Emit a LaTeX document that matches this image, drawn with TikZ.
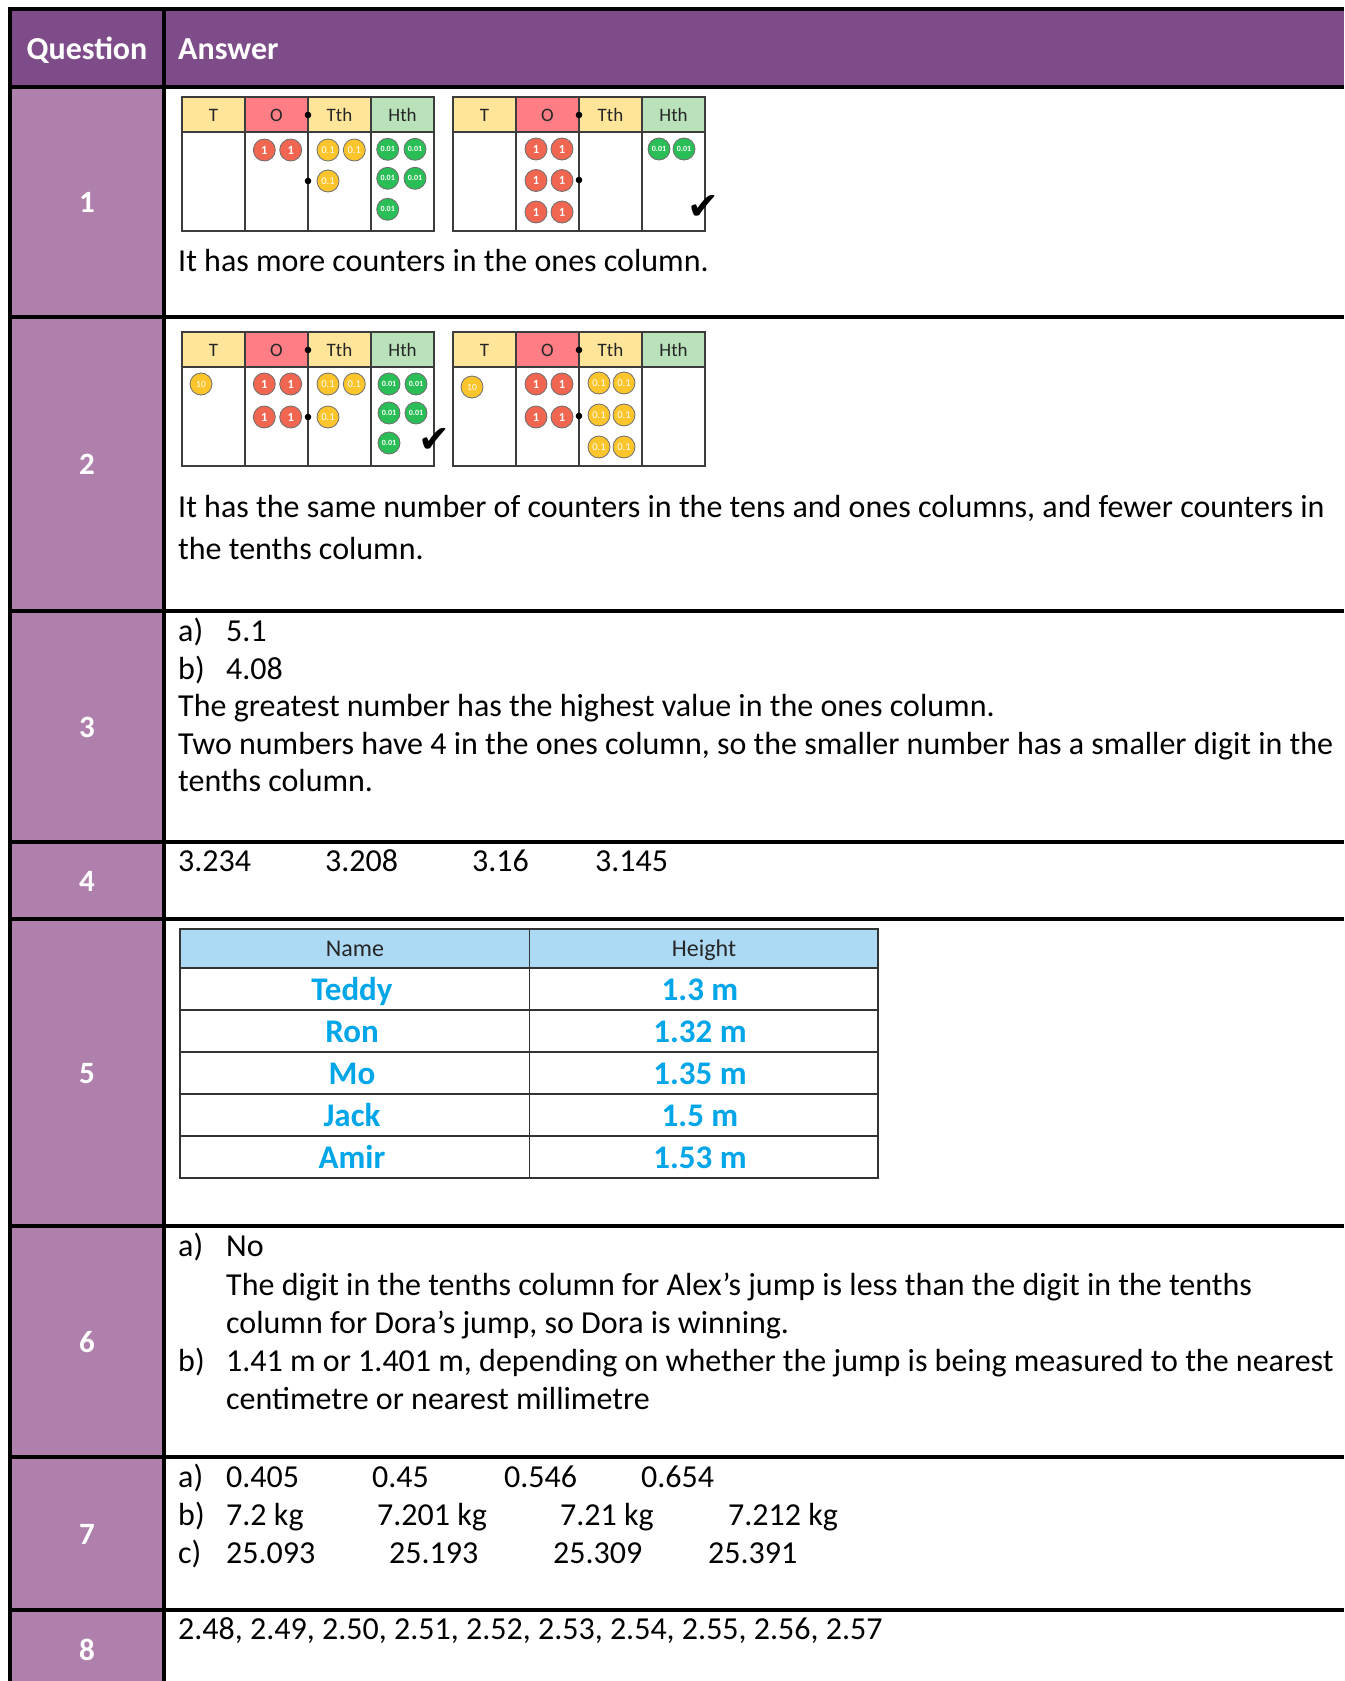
\documentclass[tikz,border=0pt]{standalone}
\usepackage{fontspec}
\setmainfont{Carlito}
\newfontfamily\symfont{DejaVu Sans}
\definecolor{hdrpurple}{RGB}{127,76,138}
\definecolor{qpurple}{RGB}{176,128,173}
\definecolor{chy}{RGB}{255,229,153}
\definecolor{chr}{RGB}{255,125,132}
\definecolor{chg}{RGB}{186,226,186}
\definecolor{chline}{RGB}{60,60,60}
\definecolor{cred}{RGB}{240,102,80}
\definecolor{cyel}{RGB}{253,197,44}
\definecolor{cgrn}{RGB}{42,190,86}
\definecolor{cline}{RGB}{110,110,110}
\definecolor{tblue}{RGB}{172,217,244}
\definecolor{nblue}{RGB}{0,166,232}
\newcommand\fs[1]{\fontsize{#1}{#1}\selectfont}
\newcounter{ctrno}
\newcommand\ctr[4]{\stepcounter{ctrno}\node[#1] (ctr\thectrno) at (#2,#3) {#4};}
\tikzset{
  tline/.style={line width=4pt, black},
  chartln/.style={line width=1.4pt, chline},
  chhead/.style={inner sep=0pt, text=black!85, font=\fs{19}},
  basec/.style={circle, draw=cline, line width=0.8pt, minimum size=22pt, inner sep=0pt, text=white},
  onec/.style={basec, fill=cred, font=\bfseries\fs{12.5}},
  tenthc/.style={basec, fill=cyel, font=\fs{10.5}},
  hundc/.style={basec, fill=cgrn, font=\bfseries\fs{8}},
  tenc/.style={basec, fill=cyel, font=\fs{9.5}},
  body/.style={inner sep=0pt, anchor=base west, font=\fs{32}},
  qnum/.style={inner sep=0pt, anchor=base, text=white, font=\bfseries\fs{31}},
  hdrtxt/.style={inner sep=0pt, text=white, font=\bfseries\fs{32}},
  tbhead/.style={inner sep=0pt, anchor=base, text=black!85, font=\fs{24}},
  tbname/.style={inner sep=0pt, anchor=base, text=nblue, font=\bfseries\fs{33}},
  chk/.style={inner sep=0pt, font=\symfont\fs{38}},
  tbline/.style={line width=1.6pt, black!80}
}
% #1 x0, #2 y0, #3 name prefix, #4 body dot y (relative)
\newcommand\pvchart[4]{%
  \begin{scope}[shift={(#1,#2)}]
    \fill[chy] (0,0) rectangle (63,35);
    \fill[chr] (63,0) rectangle (126,35);
    \fill[chy] (126,0) rectangle (189,35);
    \fill[chg] (189,0) rectangle (252,35);
    \draw[chartln] (0,0) rectangle (252,134);
    \draw[chartln] (0,35) -- (252,35);
    \draw[chartln] (63,0) -- (63,134);
    \draw[chartln] (126,0) -- (126,134);
    \draw[chartln] (189,0) -- (189,134);
    \fill[black] (126,18) circle (3.3);
    \fill[black] (126,#4) circle (3.3);
    \node[chhead] (#3T) at (31.5,18) {T};
    \node[chhead] (#3O) at (94.5,18) {O};
    \node[chhead] (#3Tth) at (157.5,18) {Tth};
    \node[chhead] (#3Hth) at (220.5,18) {Hth};
  \end{scope}}
\begin{document}
\begin{tikzpicture}[x=1pt,y=-1pt]
\useasboundingbox (0,0) rectangle (1344,1681);
\fill[white] (0,0) rectangle (1344,1681);
% backgrounds
\fill[hdrpurple] (10,9) rectangle (1344,87);
\fill[qpurple] (10,87) rectangle (164,1681);
% grid
\foreach \yy in {9,87,317,611,842,919,1226,1457,1610}
  \draw[tline] (8,\yy) -- (1344,\yy);
\draw[tline] (10,7) -- (10,1681);
\draw[tline] (164,7) -- (164,1681);
% header
\node[hdrtxt, anchor=base] (hq) at (87,59.5) {Question};
\node[hdrtxt, anchor=base west] (ha) at (178,59.5) {Answer};
% question numbers
\node[qnum] (q1) at (87,212.5) {1};
\node[qnum] (q2) at (87,474.5) {2};
\node[qnum] (q3) at (87,737) {3};
\node[qnum] (q4) at (87,891) {4};
\node[qnum] (q5) at (87,1083) {5};
\node[qnum] (q6) at (87,1352) {6};
\node[qnum] (q7) at (87,1544) {7};
\node[qnum] (q8) at (87,1660.5) {8};

% ---------- Q1 charts
\pvchart{182}{97}{qa}{84}
\ctr{onec}{264.3}{150}{1}
\ctr{onec}{290.7}{150}{1}
\ctr{tenthc}{328}{150}{0.1}
\ctr{tenthc}{354.3}{150}{0.1}
\ctr{tenthc}{328}{181}{0.1}
\ctr{hundc}{387.7}{149.3}{0.01}
\ctr{hundc}{415}{149.3}{0.01}
\ctr{hundc}{387.7}{178.3}{0.01}
\ctr{hundc}{415}{178.3}{0.01}
\ctr{hundc}{387.7}{209.3}{0.01}

\pvchart{453}{97}{qb}{83}
\ctr{onec}{536}{149}{1}
\ctr{onec}{562}{149}{1}
\ctr{onec}{536}{180.5}{1}
\ctr{onec}{562}{180.5}{1}
\ctr{onec}{536}{212}{1}
\ctr{onec}{562}{212}{1}
\ctr{hundc}{659}{149}{0.01}
\ctr{hundc}{684}{149}{0.01}
\node[chk] (chk1) at (703,208) {✔};
\node[body] (t1) at (178,271) {It has more counters in the ones column.};

% ---------- Q2 charts
\pvchart{182}{332}{qc}{85}
\ctr{tenc}{201}{384}{10}
\ctr{onec}{264.3}{384}{1}
\ctr{onec}{290.7}{384}{1}
\ctr{onec}{264.3}{417}{1}
\ctr{onec}{290.7}{417}{1}
\ctr{tenthc}{328}{384}{0.1}
\ctr{tenthc}{354.3}{384}{0.1}
\ctr{tenthc}{328}{417}{0.1}
\ctr{hundc}{389}{384}{0.01}
\ctr{hundc}{416}{384}{0.01}
\ctr{hundc}{389}{413}{0.01}
\ctr{hundc}{416}{413}{0.01}
\ctr{hundc}{389}{443}{0.01}
\node[chk] (chk2) at (434,441) {✔};

\pvchart{453}{332}{qd}{84}
\ctr{tenc}{472}{387}{10}
\ctr{onec}{536}{384}{1}
\ctr{onec}{562}{384}{1}
\ctr{onec}{536}{417}{1}
\ctr{onec}{562}{417}{1}
\ctr{tenthc}{599}{383}{0.1}
\ctr{tenthc}{624}{383}{0.1}
\ctr{tenthc}{599}{415}{0.1}
\ctr{tenthc}{624}{415}{0.1}
\ctr{tenthc}{599}{447}{0.1}
\ctr{tenthc}{624}{447}{0.1}
\node[body] (t2a) at (178,517) {It has the same number of counters in the tens and ones columns, and fewer counters in};
\node[body] (t2b) at (178,559) {the tenths column.};

% ---------- Q3
\node[body] (t3a) at (178,641) {a)};
\node[body] (t3a2) at (226,641) {5.1};
\node[body] (t3b) at (178,679) {b)};
\node[body] (t3b2) at (226,679) {4.08};
\node[body] (t3c) at (178,716) {The greatest number has the highest value in the ones column.};
\node[body] (t3d) at (178,754) {Two numbers have 4 in the ones column, so the smaller number has a smaller digit in the};
\node[body] (t3e) at (178,791) {tenths column.};

% ---------- Q4
\node[body] (t4a) at (178,871) {3.234};
\node[body] (t4b) at (325,871) {3.208};
\node[body] (t4c) at (472,871) {3.16};
\node[body] (t4d) at (595,871) {3.145};

% ---------- Q5 table
\fill[tblue] (180,929) rectangle (878,968);
\draw[tbline] (180,929) rectangle (878,1178);
\foreach \yy in {968,1010,1052,1094,1136}
  \draw[tbline] (180,\yy) -- (878,\yy);
\draw[tbline] (529.5,929) -- (529.5,1178);
\node[tbhead] (th1) at (355,956) {Name};
\node[tbhead] (th2) at (704,956) {Height};
\node[tbname] (n1) at (352,1000) {Teddy};
\node[tbname] (h1) at (700,1000) {1.3 m};
\node[tbname] (n2) at (352,1042) {Ron};
\node[tbname] (h2) at (700,1042) {1.32 m};
\node[tbname] (n3) at (352,1084) {Mo};
\node[tbname] (h3) at (700,1084) {1.35 m};
\node[tbname] (n4) at (352,1126) {Jack};
\node[tbname] (h4) at (700,1126) {1.5 m};
\node[tbname] (n5) at (352,1168) {Amir};
\node[tbname] (h5) at (700,1168) {1.53 m};

% ---------- Q6
\node[body] (t6a) at (178,1256) {a)};
\node[body] (t6a2) at (226,1256) {No};
\node[body] (t6a3) at (226,1295) {The digit in the tenths column for Alex’s jump is less than the digit in the tenths};
\node[body] (t6a4) at (226,1333) {column for Dora’s jump, so Dora is winning.};
\node[body] (t6b) at (178,1371) {b)};
\node[body] (t6b2) at (226,1371) {1.41 m or 1.401 m, depending on whether the jump is being measured to the nearest};
\node[body] (t6b3) at (226,1409) {centimetre or nearest millimetre};

% ---------- Q7
\node[body] (t7a) at (178,1487) {a)};
\node[body] (t7a1) at (226,1487) {0.405};
\node[body] (t7a2) at (372,1487) {0.45};
\node[body] (t7a3) at (504,1487) {0.546};
\node[body] (t7a4) at (641,1487) {0.654};
\node[body] (t7b) at (178,1525) {b)};
\node[body] (t7b1) at (226,1525) {7.2 kg};
\node[body] (t7b2) at (377,1525) {7.201 kg};
\node[body] (t7b3) at (560,1525) {7.21 kg};
\node[body] (t7b4) at (728,1525) {7.212 kg};
\node[body] (t7c) at (178,1563) {c)};
\node[body] (t7c1) at (226,1563) {25.093};
\node[body] (t7c2) at (389,1563) {25.193};
\node[body] (t7c3) at (553,1563) {25.309};
\node[body] (t7c4) at (708,1563) {25.391};

% ---------- Q8
\node[body] (t8) at (178,1639) {2.48, 2.49, 2.50, 2.51, 2.52, 2.53, 2.54, 2.55, 2.56, 2.57};
\end{tikzpicture}
\end{document}
